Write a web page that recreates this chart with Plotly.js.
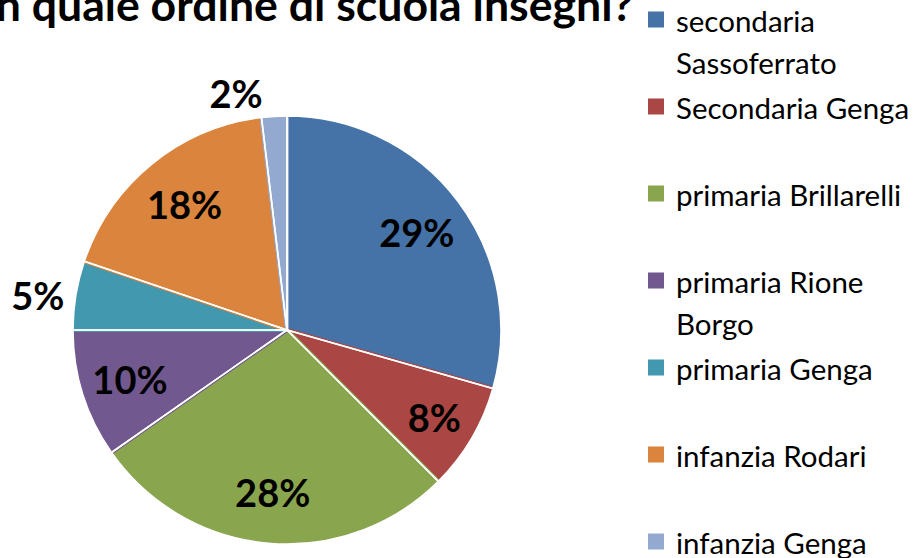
<!DOCTYPE html>
<html>
<head>
<meta charset="utf-8">
<script src="https://cdn.plot.ly/plotly-3.0.1.min.js"></script>
<style>html,body{margin:0;padding:0;background:#fff;}#chart{width:915px;height:558px;}</style>
</head>
<body>
<div id="chart"></div>
<script>
// Data (percent of respondents)
const categories = ["secondaria Sassoferrato", "Secondaria Genga", "primaria Brillarelli", "primaria Rione Borgo", "primaria Genga", "infanzia Rodari", "infanzia Genga"];
// legend wrapping as in the reference (each entry occupies two lines)
const legendLines = [["secondaria", "Sassoferrato"], ["Secondaria Genga", " "], ["primaria Brillarelli", " "], ["primaria Rione", "Borgo"], ["primaria Genga", " "], ["infanzia Rodari", " "], ["infanzia Genga"]];
const values = [29.4, 8.1, 27.8, 9.7, 5.2, 17.9, 1.9];
const colors = ["#4572A7", "#AA4643", "#89A54E", "#71588F", "#4198AF", "#DB843D", "#93A9CF"];
const labelPositions = ["inside", "inside", "inside", "inside", "outside", "inside", "outside"];
const titleText = "In quale ordine di scuola insegni?";

const W = 915, H = 558;
const legendTextSize = 29.5;
const legendLabels = legendLines.map(lines =>
  lines.map(t => '<span style="font-size:' + legendTextSize + 'px">' + t + '</span>').join("<br>"));

const pieDomain = { x: [73 / W, 501 / W], y: [14 / H, 442 / H] };
const innerDomain = { x: [75 / W, 499 / W], y: [16 / H, 440 / H] };
const transparent = legendLabels.map(() => "rgba(0,0,0,0)");
const labelFont = { family: "Lato", size: 38, color: "#000000", weight: "bold" };

// 1) coloured slices (also feed the legend)
const slices = {
  type: "pie",
  labels: legendLabels,
  values: values,
  sort: false,
  direction: "clockwise",
  rotation: 0,
  marker: { colors: colors, line: { color: colors, width: 4 } },
  textinfo: "none",
  hoverinfo: "skip",
  domain: innerDomain
};

// 2) white separators between slices
const borders = {
  type: "pie",
  labels: legendLabels,
  values: values,
  sort: false,
  direction: "clockwise",
  rotation: 0,
  marker: { colors: transparent, line: { color: "#ffffff", width: 1.6 } },
  textinfo: "none",
  hoverinfo: "skip",
  showlegend: false,
  domain: pieDomain
};

// 3) percentage labels
const labelsTrace = {
  type: "pie",
  labels: legendLabels,
  values: values,
  customdata: categories,
  sort: false,
  direction: "clockwise",
  rotation: 0,
  hole: 0.52,
  marker: { colors: transparent, line: { width: 0 } },
  texttemplate: "%{percent:.0%}",
  textposition: labelPositions,
  insidetextorientation: "horizontal",
  textfont: labelFont,
  insidetextfont: labelFont,
  outsidetextfont: labelFont,
  hovertemplate: "%{customdata}: %{percent}<extra></extra>",
  showlegend: false,
  domain: pieDomain
};

const layout = {
  width: W,
  height: H,
  margin: { l: 0, r: 0, t: 0, b: 0, autoexpand: false },
  paper_bgcolor: "#ffffff",
  plot_bgcolor: "#ffffff",
  title: {
    text: titleText,
    font: { family: "Lato", size: 44.6, color: "#000000", weight: "bold" },
    xref: "container", yref: "container",
    x: 633 / W, xanchor: "right",
    y: 1 - 5 / H, yanchor: "middle"
  },
  showlegend: true,
  legend: {
    x: 636 / W, xanchor: "left",
    y: 1 + 8 / H, yanchor: "top",
    font: { family: "Lato", size: 32.3, color: "#000000" },
    valign: "top",
    maxheight: 2000,
    bgcolor: "rgba(0,0,0,0)",
    borderwidth: 0,
    traceorder: "normal"
  }
};

Plotly.newPlot("chart", [slices, borders, labelsTrace], layout, { displayModeBar: false, staticPlot: true });
</script>
</body>
</html>
